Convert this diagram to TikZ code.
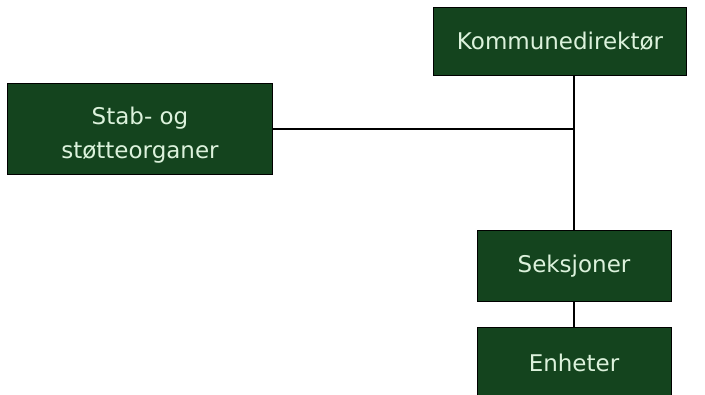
\documentclass[tikz,border=0pt]{standalone}
\usepackage{fontspec}
\setmainfont{DejaVu Sans}
\definecolor{boxgreen}{RGB}{20,68,30}
\definecolor{boxtext}{RGB}{220,242,220}
\begin{document}
\begin{tikzpicture}[x=1pt,y=-1pt,
  orgbox/.style={draw=black, line width=0.8pt, fill=boxgreen, text=boxtext,
    font=\fontsize{23}{33}\selectfont, align=center, inner sep=0pt},
  boxlabel/.style={text=boxtext, font=\fontsize{23}{34}\selectfont,
    align=center, inner sep=0pt},
  link/.style={draw=black, line width=1.2pt}]
  \useasboundingbox (0,0) rectangle (705,395);
  \clip (0,0) rectangle (705,395);
  \fill[white] (0,0) rectangle (705,395);

  % boxes
  \node[orgbox, minimum width=253pt, minimum height=68pt] (dir) at (560,41.5) {Kommunedirektør};
  \node[orgbox, minimum width=265pt, minimum height=91pt] (stab) at (140,129) {};
  \node[boxlabel] (stabtext) at ([yshift=-6pt]stab.center) {Stab- og\\støtteorganer};
  \node[orgbox, minimum width=194pt, minimum height=71pt] (seks) at (574,266) {Seksjoner};
  \node[orgbox, minimum width=194pt, minimum height=72pt] (enh) at (574,363) {Enheter};

  % connectors
  \coordinate (top) at (seks.north |- dir.south);
  \coordinate (junc) at (seks.north |- stab.east);
  \draw[link] (top) -- (seks.north);
  \draw[link] (stab.east) -- (junc);
  \draw[link] (seks.south) -- (enh.north);
\end{tikzpicture}
\end{document}
